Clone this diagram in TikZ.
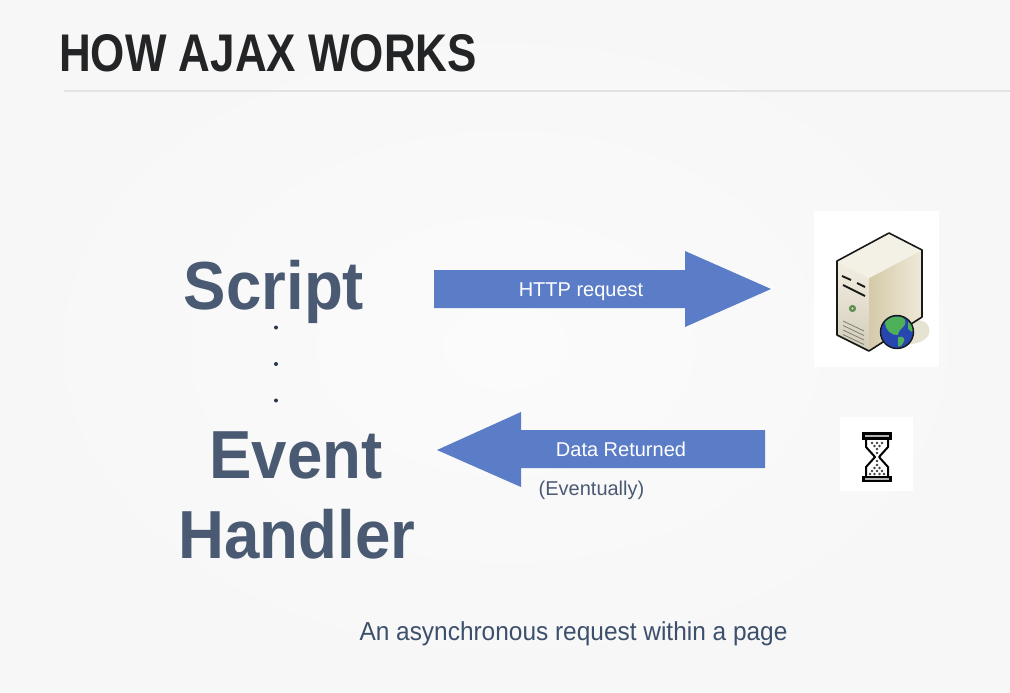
\documentclass[tikz,border=0pt]{standalone}
\usepackage{fontspec}
\setmainfont{Liberation Sans}
\newfontfamily\titlefont[FakeStretch=0.83]{Liberation Sans}
\newfontfamily\headfont[FakeStretch=0.935]{Liberation Sans}
\newfontfamily\bodyfont[FakeStretch=1.0]{Liberation Sans}
\newfontfamily\footfont[FakeStretch=0.94]{Liberation Sans}
\definecolor{bgedge}{HTML}{F7F7F8}
\definecolor{bgmid}{HTML}{FBFBFB}
\definecolor{titlec}{HTML}{222426}
\definecolor{slate}{HTML}{4A5A72}
\definecolor{navy}{HTML}{3C4F6B}
\definecolor{arrowc}{HTML}{5B7CC6}
\definecolor{rulec}{HTML}{E2E3E5}
\definecolor{srvfront}{HTML}{EAE3CE}
\definecolor{srvside}{HTML}{D5CAA9}
\definecolor{srvtop}{HTML}{F3F0E5}
\definecolor{srvshadow}{HTML}{E6E3D2}
\definecolor{globeblue}{HTML}{2746B0}
\definecolor{globegreen}{HTML}{4FB05A}
\tikzset{
  x=1pt,y=-1pt,
  heading/.style={font=\headfont\bfseries\fontsize{68}{68}\selectfont,text=slate,inner sep=0pt,anchor=base},
  bigarrow/.style={fill=arrowc,draw=none},
  arrowlabel/.style={font=\bodyfont\fontsize{20}{20}\selectfont,text=white,inner sep=0pt,anchor=base},
  iconbg/.style={fill=white,draw=none},
  dotmark/.style={circle,fill=navy!70!black,inner sep=0pt,minimum size=4pt},
}
\begin{document}
\begin{tikzpicture}
\useasboundingbox (0,0) rectangle (1010,693);
\shade[inner color=bgmid,outer color=bgedge] (0,0) rectangle (1010,693);
% title
\node[font=\titlefont\bfseries\fontsize{53}{53}\selectfont,text=titlec,inner sep=0pt,anchor=base west] (title) at (59,71) {HOW AJAX WORKS};
\coordinate (ruleL) at (64,91);
\coordinate (ruleR) at (1010,91);
\draw[rulec,line width=1.6pt] (ruleL) -- (ruleR);
% left labels
\node[heading] (script) at (274,309) {Script};
\node[heading] (event) at (296,478) {Event};
\node[heading] (handler) at (297,558) {Handler};
\node[dotmark] (d1) at (276,327.5) {};
\node[dotmark] (d2) at (276,364) {};
\node[dotmark] (d3) at (276,400.5) {};
% arrows
\fill[bigarrow] (434,270) -- (685,270) -- (685,251) -- (771,289) -- (685,327) -- (685,308) -- (434,308) -- cycle;
\node[arrowlabel] (req) at (581,296) {HTTP request};
\fill[bigarrow] (765,430) -- (521,430) -- (521,412) -- (437,450) -- (521,487) -- (521,468) -- (765,468) -- cycle;
\node[arrowlabel] (ret) at (621,456) {Data Returned};
\node[font=\bodyfont\fontsize{20}{20}\selectfont,text=slate,inner sep=0pt,anchor=base] (ev) at (591.5,495) {(Eventually)};
\node[font=\footfont\fontsize{26}{26}\selectfont,text=navy,inner sep=0pt,anchor=base] (foot) at (573.5,640) {An asynchronous request within a page};
% server icon
\fill[iconbg] (814,211) rectangle (939,367);
\fill[srvshadow] (905,322) .. controls (925,316) and (931,325) .. (929,334) .. controls (926,342) and (912,346) .. (895,345) -- cycle;
\shade[top color=srvfront!60!white,bottom color=srvfront!90!black] (837,261) -- (869,278) -- (869,351) -- (837,335) -- cycle;
\shade[left color=srvside,right color=srvfront!80!white] (869,278) -- (922,250) -- (922,317) -- (869,351) -- cycle;
\fill[srvtop] (837,261) -- (889,233) -- (922,250) -- (869,278) -- cycle;
\draw[black!90,line width=1.6pt,line join=round] (837,261) -- (889,233) -- (922,250) -- (922,317) -- (869,351) -- (837,335) -- cycle;
\draw[black!90!srvfront,line width=1.9pt] (842,276) -- (851,280) (857,283) -- (865,287);
\draw[black!90!srvfront,line width=1.9pt] (843,285) -- (865,296);
\fill[srvfront!50!black!80!green] (852.5,308.5) circle (3.6);
\fill[srvfront] (852.5,308.5) circle (1.2);
\foreach \yy in {321,325.5,330,334.5}{
  \draw[black!45!srvfront,line width=.8pt] (843,\yy) -- (864,\yy+10);
}
\fill[globeblue] (897,332) circle (16.5);
\begin{scope}
  \clip (897,332) circle (16.5);
  \fill[globegreen] (885,322) .. controls (892,314) and (903,316) .. (905,320) .. controls (907,328) and (899,327) .. (898,335) .. controls (892,336) and (885,330) .. (885,322) -- cycle;
  \fill[globegreen] (898,337) .. controls (904,335) and (906,340) .. (903,343) .. controls (901,346) and (900,348) .. (898,346) -- cycle;
  \fill[globegreen] (908,322) -- (914,326) -- (912,332) -- (908,329) -- cycle;
\end{scope}
\draw[black!90,line width=1.4pt] (897,332) circle (16.5);
% hourglass icon
\fill[iconbg] (840,417) rectangle (913,491);
\draw[black,line width=2.4pt,fill=white!70!black] (863.5,433.5) rectangle (890.5,438.5);
\draw[black,line width=2.4pt,fill=white!70!black] (863.5,477) rectangle (890.5,481);
\draw[black,line width=2pt,line join=round] (866,439) -- (866,447) -- (875,457) -- (866,467) -- (866,477);
\draw[black,line width=2pt,line join=round] (888,439) -- (888,447) -- (879,457) -- (888,467) -- (888,477);
\foreach \px/\py in {872/443,877/443,882/443,874.5/446,879.5/446,877/449,877/453,877/461,877/465,874.5/468,879.5/468,872/471,877/471,882/471,870/474,874.5/474,879.5/474,884/474}{
  \fill[black!75] (\px,\py) circle (1.3);
}
\end{tikzpicture}
\end{document}
